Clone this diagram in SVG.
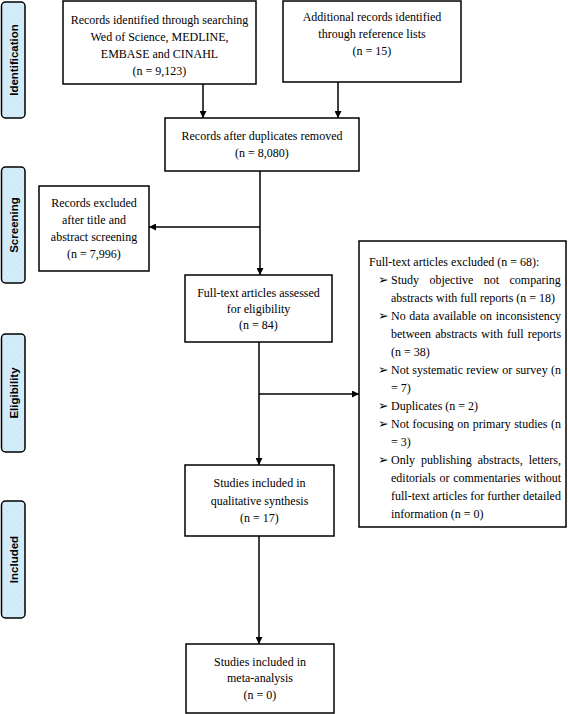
<svg xmlns="http://www.w3.org/2000/svg" width="568" height="714" viewBox="0 0 568 714">
<style>
.box{fill:#fff;stroke:#000;stroke-width:1.5}
.t{font-family:"Liberation Serif","Times New Roman",serif;font-size:12px;fill:#000}
.c{text-anchor:middle}
.side{fill:url(#dots);stroke:#000;stroke-width:1.5}
.st{font-family:"Liberation Sans",Arial,sans-serif;font-size:11.5px;font-weight:bold;text-anchor:middle;fill:#000}
.b{font-family:"DejaVu Sans",sans-serif;font-size:12.5px}
.ln{fill:none;stroke:#000;stroke-width:1.5}
</style>
<defs>
<pattern id="dots" width="6" height="6" patternUnits="userSpaceOnUse">
<rect width="6" height="6" fill="#d3ecfa"/>
<circle cx="1.5" cy="1.5" r="0.5" fill="#eccdb8"/>
<circle cx="4.5" cy="4.5" r="0.5" fill="#c9dfee"/>
</pattern>
<marker id="arr" viewBox="0 0 10 10" refX="10" refY="5" markerWidth="7" markerHeight="7" markerUnits="userSpaceOnUse" orient="auto">
<path d="M0,0 L10,5 L0,10 z" fill="#000"/>
</marker>
</defs>

<g id="side-identification"><rect class="side" x="1.5" y="2" width="23.5" height="116" rx="4"/><text class="st" transform="translate(17.5,60) rotate(-90)">Identification</text></g>
<g id="side-screening"><rect class="side" x="1.5" y="167" width="23.5" height="116" rx="4"/><text class="st" transform="translate(17.5,225) rotate(-90)">Screening</text></g>
<g id="side-eligibility"><rect class="side" x="1.5" y="334" width="23.5" height="118" rx="4"/><text class="st" transform="translate(17.5,393) rotate(-90)">Eligibility</text></g>
<g id="side-included"><rect class="side" x="1.5" y="501" width="23.5" height="117" rx="4"/><text class="st" transform="translate(17.5,559.5) rotate(-90)">Included</text></g>

<g id="connectors">
<line class="ln" x1="203" y1="84" x2="203" y2="118" marker-end="url(#arr)"/>
<line class="ln" x1="338" y1="82" x2="338" y2="118" marker-end="url(#arr)"/>
<line class="ln" x1="260" y1="171" x2="260" y2="275" marker-end="url(#arr)"/>
<line class="ln" x1="260" y1="227" x2="149" y2="227" marker-end="url(#arr)"/>
<line class="ln" x1="259" y1="342" x2="259" y2="465" marker-end="url(#arr)"/>
<line class="ln" x1="259" y1="394" x2="359" y2="394" marker-end="url(#arr)"/>
<line class="ln" x1="259" y1="536" x2="259" y2="644" marker-end="url(#arr)"/>
</g>

<g id="records-searching">
<rect class="box" x="63" y="1" width="193" height="83"/>
<text class="t c" x="159.5" y="24">Records identified through searching</text>
<text class="t c" x="159.5" y="41">Wed of Science, MEDLINE,</text>
<text class="t c" x="159.5" y="58">EMBASE and CINAHL</text>
<text class="t c" x="159.5" y="75">(n = 9,123)</text>
</g>

<g id="records-additional">
<rect class="box" x="283" y="1" width="178" height="81"/>
<text class="t c" x="372" y="21">Additional records identified</text>
<text class="t c" x="372" y="38">through reference lists</text>
<text class="t c" x="372" y="55">(n = 15)</text>
</g>

<g id="records-dedup">
<rect class="box" x="165" y="118" width="194" height="53"/>
<text class="t c" x="262" y="140">Records after duplicates removed</text>
<text class="t c" x="262" y="157">(n = 8,080)</text>
</g>

<g id="records-excluded">
<rect class="box" x="39" y="186" width="110" height="85"/>
<text class="t c" x="94" y="207">Records excluded</text>
<text class="t c" x="94" y="224">after title and</text>
<text class="t c" x="94" y="241">abstract screening</text>
<text class="t c" x="94" y="258">(n = 7,996)</text>
</g>

<g id="fulltext-assessed">
<rect class="box" x="185" y="275" width="147" height="67"/>
<text class="t c" x="258.5" y="297">Full-text articles assessed</text>
<text class="t c" x="258.5" y="313">for eligibility</text>
<text class="t c" x="258.5" y="329">(n = 84)</text>
</g>

<g id="fulltext-excluded">
<rect class="box" x="359" y="241" width="207" height="286"/>
<text class="t" x="369" y="266">Full-text articles excluded (n = 68):</text>
<text class="t b" x="378" y="284">➢</text><text class="t" x="391" y="284" word-spacing="7.4">Study objective not comparing</text>
<text class="t" x="391" y="302">abstracts with full reports (n = 18)</text>
<text class="t b" x="378" y="320">➢</text><text class="t" x="391" y="320" word-spacing="0.7">No data available on inconsistency</text>
<text class="t" x="391" y="338" word-spacing="1.2">between abstracts with full reports</text>
<text class="t" x="391" y="356">(n = 38)</text>
<text class="t b" x="378" y="374">➢</text><text class="t" x="391" y="374" word-spacing="0.35">Not systematic review or survey (n</text>
<text class="t" x="391" y="392">= 7)</text>
<text class="t b" x="378" y="410">➢</text><text class="t" x="391" y="410">Duplicates (n = 2)</text>
<text class="t b" x="378" y="428">➢</text><text class="t" x="391" y="428" word-spacing="0.47">Not focusing on primary studies (n</text>
<text class="t" x="391" y="446">= 3)</text>
<text class="t b" x="378" y="464">➢</text><text class="t" x="391" y="464" word-spacing="3">Only publishing abstracts, letters,</text>
<text class="t" x="391" y="482" word-spacing="0.78">editorials or commentaries without</text>
<text class="t" x="391" y="500">full-text articles for further detailed</text>
<text class="t" x="391" y="518">information (n = 0)</text>
</g>

<g id="qualitative">
<rect class="box" x="185" y="465" width="149" height="71"/>
<text class="t c" x="259.5" y="487">Studies included in</text>
<text class="t c" x="259.5" y="505">qualitative synthesis</text>
<text class="t c" x="259.5" y="522">(n = 17)</text>
</g>

<g id="meta-analysis">
<rect class="box" x="186" y="644" width="148" height="69"/>
<text class="t c" x="260" y="666">Studies included in</text>
<text class="t c" x="260" y="682">meta-analysis</text>
<text class="t c" x="260" y="699">(n = 0)</text>
</g>
</svg>
